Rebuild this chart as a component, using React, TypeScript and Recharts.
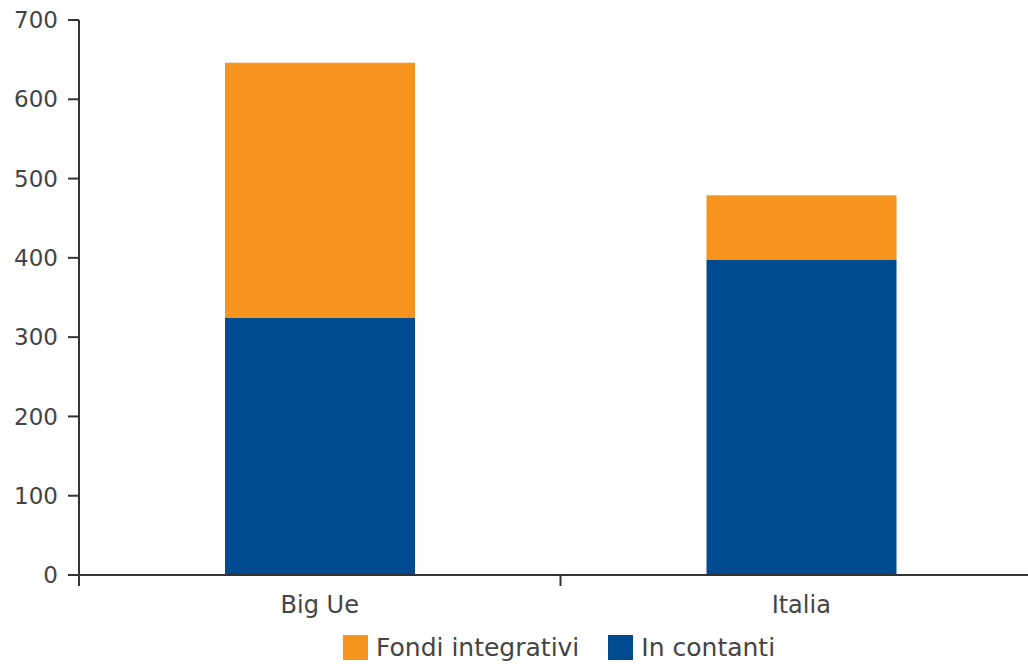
import { Bar, BarChart, Legend, XAxis, YAxis } from 'recharts'

const categories = ['Big Ue', 'Italia']
const inContanti = [324, 398]
const fondiIntegrativi = [322, 81]
const yTicks = [0, 100, 200, 300, 400, 500, 600, 700]

const ORANGE = '#F7941E'
const BLUE = '#004A8F'
const AXIS = '#333'
const FONT = '"DejaVu Sans", sans-serif'
const LABEL_GAP = 21
const TICK_LEN = 11

const data = categories.map((name, i) => ({
  name,
  contanti: inContanti[i],
  fondi: fondiIntegrativi[i],
}))

const legendItems = [
  { label: 'Fondi integrativi', color: ORANGE },
  { label: 'In contanti', color: BLUE },
]

// category label plus tick marks on the band edges (Excel style)
function CatTick(props: any) {
  const { x, y, payload, index, visibleTicksCount } = props
  const half = payload?.offset ?? 0
  const axisY = y - LABEL_GAP
  const last = index === visibleTicksCount - 1
  return (
    <g>
      <line x1={x - half} x2={x - half} y1={axisY} y2={axisY + TICK_LEN} stroke={AXIS} strokeWidth={2} />
      {last && <line x1={x + half} x2={x + half} y1={axisY} y2={axisY + TICK_LEN} stroke={AXIS} strokeWidth={2} />}
      <text x={x} y={y} dy="0.71em" textAnchor="middle" fontSize={24} fill="#444" fontFamily={FONT}>{payload.value}</text>
    </g>
  )
}

function LegendBox() {
  return (
    <div style={{ display: 'flex', alignItems: 'center', height: 34, paddingLeft: 343, fontFamily: FONT, fontSize: 25, color: '#444', lineHeight: '25px' }}>
      {legendItems.map(it => (
        <div key={it.label} style={{ display: 'flex', alignItems: 'center', marginRight: 29 }}>
          <span style={{ width: 25, height: 25, background: it.color, display: 'inline-block', marginRight: 8 }} />
          <span>{it.label}</span>
        </div>
      ))}
    </div>
  )
}

export default function App() {
  return (
    <div style={{ position: 'fixed', left: 0, top: 0, width: 1028, height: 664, overflow: 'hidden', background: '#fff' }}>
      <BarChart width={1050} height={664} data={data} margin={{ top: 20, right: 8, left: 0, bottom: 0 }}>
        <XAxis dataKey="name" tickLine={false} tickSize={0} tickMargin={LABEL_GAP} height={55}
          axisLine={{ stroke: AXIS, strokeWidth: 2 }} tick={<CatTick />} interval={0} />
        <YAxis domain={[0, 700]} ticks={yTicks} width={79} tickSize={TICK_LEN} tickMargin={10}
          axisLine={{ stroke: AXIS, strokeWidth: 2 }} tickLine={{ stroke: AXIS, strokeWidth: 2 }}
          tick={{ fontSize: 23, fill: '#444', fontFamily: FONT }} />
        <Legend verticalAlign="bottom" content={() => <LegendBox />} />
        <Bar dataKey="contanti" stackId="a" fill={BLUE} barSize={190} isAnimationActive={false} />
        <Bar dataKey="fondi" stackId="a" fill={ORANGE} barSize={190} isAnimationActive={false} />
      </BarChart>
    </div>
  )
}
